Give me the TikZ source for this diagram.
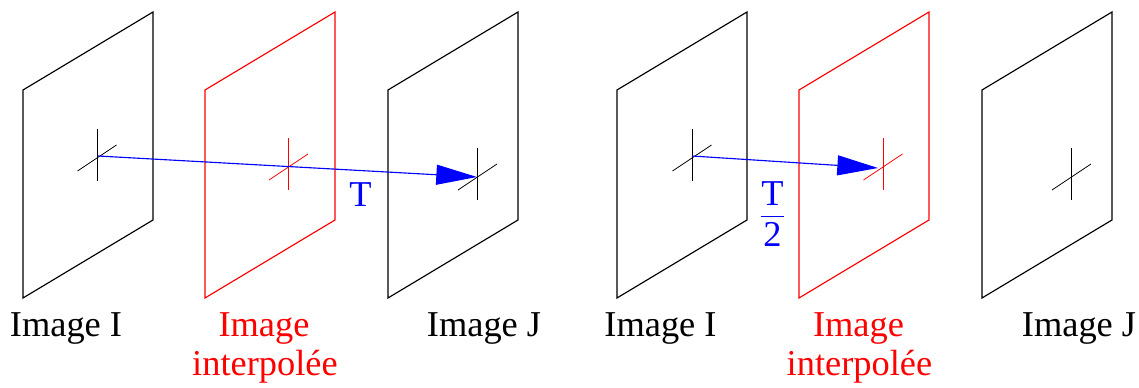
\documentclass[tikz,border=0pt]{standalone}
\usepackage{fontspec}
\setmainfont{Liberation Serif}
\usetikzlibrary{arrows.meta}
\tikzset{
  pane/.style={line width=0.85pt,line join=miter},
  tick/.style={line width=0.6pt},
  lab/.style={font=\fontsize{27.3}{33}\selectfont,anchor=base,inner sep=0pt},
  vec/.style={blue,line width=0.85pt,-{Triangle[length=30.5pt,width=15pt]},shorten >=0pt},
  tlab/.style={blue,font=\fontsize{27.3}{33}\selectfont,inner sep=0pt}
}
% coordinates are pixels of the reference: x right, y down
\newcommand{\pane}[3]{%
  \draw[pane,#3] (#1,#2) -- ++(0,-208) -- ++(130,-78) -- ++(0,208) -- cycle;
}
\newcommand{\crossmark}[3]{%
  \draw[tick,#3] (#1,#2-26) -- (#1,#2+26);
  \draw[tick,#3] (#1-19.5,#2+16) -- (#1+19.5,#2-10);
}
\begin{document}
\begin{tikzpicture}[x=0.75pt,y=-0.75pt]
\useasboundingbox (0,0) rectangle (1139,388);
\pane{23}{298}{black}
\pane{205}{298}{red}
\pane{388}{298}{black}
\pane{617}{298}{black}
\pane{799}{298}{red}
\pane{982}{298}{black}
\crossmark{97}{155}{black}
\crossmark{288.5}{164}{red}
\crossmark{477.5}{174}{black}
\crossmark{692}{155}{black}
\crossmark{883}{164}{red}
\crossmark{1071.5}{174}{black}
\coordinate (a1) at (98,156);
\coordinate (b1) at (477,177);
\coordinate (a2) at (692,156);
\coordinate (b2) at (878,168);
\draw[vec] (a1) -- (b1);
\draw[vec] (a2) -- (b2);
\node[tlab] (t1) at (360.5,195) {T};
\node[tlab] (t2) at (772.5,213) {$\displaystyle\frac{\raisebox{-2.25pt}[\height][\depth]{T}}{\raisebox{0.5pt}[\height][\depth]{2}}$};
\node[lab] (i1) at (66,337) {Image I};
\node[lab] (i2) at (484,337) {Image J};
\node[lab,red] (i3) at (264,337) {Image};
\node[lab,red] (i4) at (265,375) {interpolée};
\node[lab] (i5) at (660.5,337) {Image I};
\node[lab] (i6) at (1079,337) {Image J};
\node[lab,red] (i7) at (858.5,337) {Image};
\node[lab,red] (i8) at (859.5,375) {interpolée};
\end{tikzpicture}
\end{document}
